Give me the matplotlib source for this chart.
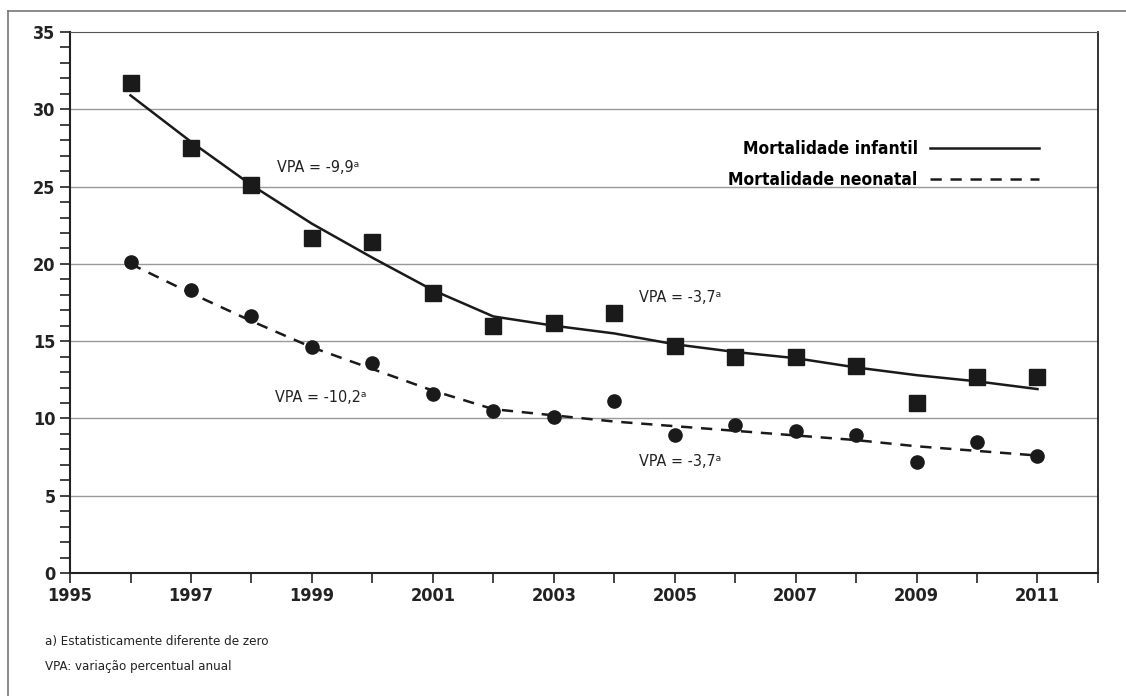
import matplotlib
matplotlib.use("Agg")
import matplotlib.pyplot as plt
from matplotlib.lines import Line2D

plt.rcParams['font.family'] = ['DejaVu Sans']
plt.rcParams['font.stretch'] = 'condensed'

anos = list(range(1996, 2012))
infantil_obs = [31.7, 27.5, 25.1, 21.7, 21.4, 18.1, 16.0, 16.2, 16.8, 14.7, 14.0, 14.0, 13.4, 11.0, 12.7, 12.7]
neonatal_obs = [20.1, 18.3, 16.6, 14.6, 13.6, 11.6, 10.5, 10.1, 11.1, 8.9, 9.6, 9.2, 8.9, 7.2, 8.5, 7.6]
infantil_aj = [30.9, 27.9, 25.1, 22.6, 20.4, 18.3, 16.6, 16.0, 15.5, 14.8, 14.3, 13.9, 13.3, 12.8, 12.4, 11.9]
neonatal_aj = [20.0, 18.1, 16.3, 14.6, 13.2, 11.8, 10.6, 10.2, 9.8, 9.5, 9.2, 8.9, 8.6, 8.2, 7.9, 7.6]

fig = plt.figure(figsize=(11.26, 6.96), dpi=100)
ax = fig.add_axes([0.0622, 0.1767, 0.9129, 0.7773])

tracejado = (0, (4.5, 3.5))
ax.plot(anos, infantil_aj, color="#1a1a1a", lw=1.8)
ax.plot(anos, neonatal_aj, color="#1a1a1a", lw=1.8, ls=tracejado)
ax.plot(anos, infantil_obs, ls="none", marker="s", ms=11.5, color="#1a1a1a")
ax.plot(anos, neonatal_obs, ls="none", marker="o", ms=9.5, color="#1a1a1a")

ax.set_xlim(1995, 2012)
ax.set_ylim(0, 35)
ax.set_xticks(range(1995, 2013))
ax.set_xticklabels([str(a) if a % 2 == 1 and a < 2012 else "" for a in range(1995, 2013)])
ax.set_yticks(range(0, 36, 5))
ax.set_yticks(range(0, 36), minor=True)
for y in range(5, 31, 5):
    ax.axhline(y, color="#999999", lw=1, zorder=0)
ax.tick_params(axis="both", which="both", direction="out", color="#222222", width=1.2)
ax.tick_params(axis="y", which="both", length=7)
ax.tick_params(axis="x", length=7, pad=3)
for lab in ax.get_xticklabels() + ax.get_yticklabels():
    lab.set_fontweight("bold")
    lab.set_fontsize(13)
    lab.set_color("#222222")
for s in ["left", "bottom"]:
    ax.spines[s].set_color("#222222")
    ax.spines[s].set_linewidth(1.5)
ax.spines["top"].set_color("#555555")
ax.spines["right"].set_color("#222222")
ax.spines["right"].set_linewidth(1.3)

ax.text(1998.43, 26.26, "VPA = -9,9ᵃ", fontsize=11.5, color="#222222", va="center")
ax.text(2004.41, 17.8, "VPA = -3,7ᵃ", fontsize=11.5, color="#222222", va="center")
ax.text(1998.39, 11.38, "VPA = -10,2ᵃ", fontsize=11.5, color="#222222", va="center")
ax.text(2004.41, 7.2, "VPA = -3,7ᵃ", fontsize=11.5, color="#222222", va="center")

handles = [Line2D([], [], color="#1a1a1a", lw=1.8),
           Line2D([], [], color="#1a1a1a", lw=1.8, ls=tracejado)]
leg = ax.legend(handles, ["Mortalidade infantil", "Mortalidade neonatal"], loc="upper right",
                bbox_to_anchor=(0.958, 0.83), frameon=False, markerfirst=False,
                handlelength=6.3, handletextpad=0.7, labelspacing=0.75,
                prop={"weight": "bold", "size": 12.5, "stretch": "condensed"})

fig.text(0.04, 0.073, "a) Estatisticamente diferente de zero", fontsize=9.5, color="#222222")
fig.text(0.04, 0.037, "VPA: variação percentual anual", fontsize=9.5, color="#222222")

fig.add_artist(Line2D([0.0075, 1.0], [0.984, 0.984], color="#777777", lw=1.2, transform=fig.transFigure))
fig.add_artist(Line2D([0.0075, 0.0075], [0.0, 0.984], color="#777777", lw=1.2, transform=fig.transFigure))

fig.savefig("out.png", dpi=100)
